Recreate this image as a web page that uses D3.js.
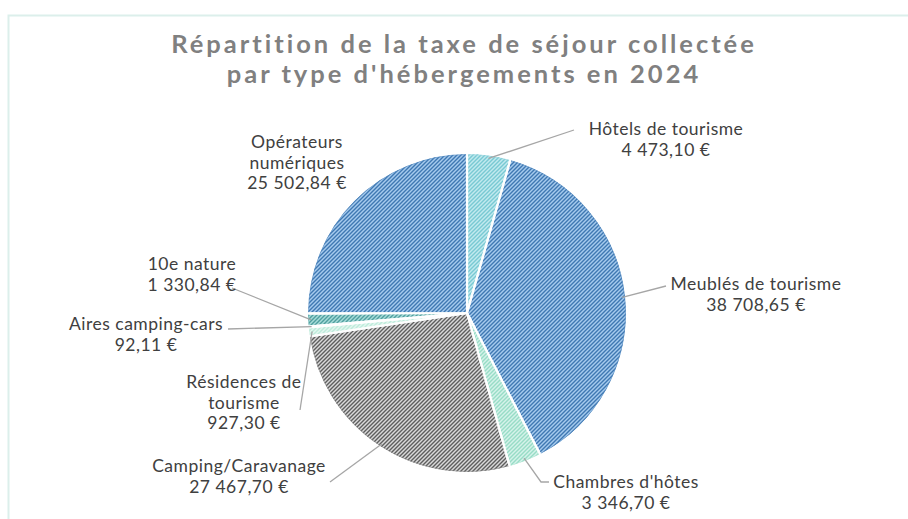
<!DOCTYPE html>
<html><head><meta charset="utf-8">
<script src="https://cdn.jsdelivr.net/npm/d3@7"></script>
<style>body{margin:0;background:#fff}svg{display:block}</style>
</head><body><svg id="c" width="908" height="519"></svg>
<script>
const categories = ["Hôtels de tourisme","Meublés de tourisme","Chambres d'hôtes","Camping/Caravanage","Résidences de tourisme","Aires camping-cars","10e nature","Opérateurs numériques"];
const values = [4473.10, 38708.65, 3346.70, 27467.70, 927.30, 92.11, 1330.84, 25502.84];
const valueLabels = ["4 473,10 €","38 708,65 €","3 346,70 €","27 467,70 €","927,30 €","92,11 €","1 330,84 €","25 502,84 €"];
const labelLines = [["Hôtels de tourisme"],["Meublés de tourisme"],["Chambres d'hôtes"],["Camping/Caravanage"],["Résidences de","tourisme"],["Aires camping-cars"],["10e nature"],["Opérateurs","numériques"]];
const titleLines = ["Répartition de la taxe de séjour collectée","par type d'hébergements en 2024"];

// styles
const bgCols = ["#c2eaef","#a6cbee","#d5f3ea","#dadada","#e4f7f0","#f0fbf7","#a8dcd9","#a6cbee"];
const fgCols = ["#78c9d3","#3f78b2","#97dcc6","#5e5e5e","#bdebdb","#d5f1e7","#4f9f9f","#3f78b2"];
const edgeCols = ["#9fd8df","#5d8fc2","#b5e6d6","#8a8a8a","#d0f0e4","#e0f5ee","#6fb5b5","#5d8fc2"];
// label layout: center x, first baseline y, leader path end points
const layout = [
  {x:666,y:135,leader:[[574,130]]},
  {x:756,y:290,leader:[[666,286]]},
  {x:626,y:488,leader:[[541,482],[549,482]]},
  {x:239,y:472,leader:[[330,482]]},
  {x:244,y:388,leader:[[300,410]]},
  {x:146,y:330,leader:[[228,329]]},
  {x:192,y:270,leader:[[232,288]]},
  {x:297,y:148,leader:null}
];

const svg = d3.select("#c");
const W=908,H=519;
svg.append("rect").attr("x",8.5).attr("y",15.5).attr("width",W).attr("height",H).attr("fill","#fff").attr("stroke","#dcefeb").attr("stroke-width",2);

const defs = svg.append("defs");
values.forEach((v,i)=>{
  const p = defs.append("pattern").attr("id","pt"+i).attr("patternUnits","userSpaceOnUse").attr("width",4).attr("height",4);
  p.append("rect").attr("width",4).attr("height",4).attr("fill",bgCols[i]);
  p.append("path").attr("d","M-1,1 L1,-1 M0,4 L4,0 M3,5 L5,3").attr("stroke",fgCols[i]).attr("stroke-width",1.4);
});

// title
const title = svg.append("text").attr("text-anchor","middle").attr("font-family","Lato, sans-serif").attr("font-weight",700)
  .attr("font-size",25.5).attr("fill","#808080").attr("letter-spacing",3);
titleLines.forEach((t,i)=>title.append("tspan").attr("x",464).attr("y",53+i*30).text(t));

const cx=467, cy=313, r=160;
const pie = d3.pie().sort(null).value(d=>d)(values);
const arc = d3.arc().innerRadius(0).outerRadius(r);
const arcIn = d3.arc().innerRadius(0).outerRadius(r-1.5);
const g = svg.append("g").attr("transform",`translate(${cx},${cy})`);
g.selectAll("path.s").data(pie).join("path").attr("class","s").attr("d",arc)
  .attr("fill",(d,i)=>`url(#pt${i})`).attr("stroke","#fff").attr("stroke-width",2.2).attr("stroke-linejoin","round");
g.selectAll("path.e").data(pie).join("path").attr("class","e").attr("d",arcIn)
  .attr("fill","none").attr("stroke",(d,i)=>edgeCols[i]).attr("stroke-width",0.8).attr("opacity",0.7);
g.selectAll("path.w").data(pie).join("path").attr("class","w").attr("d",arc)
  .attr("fill","none").attr("stroke","#fff").attr("stroke-width",1.6).attr("stroke-linejoin","round");

// leaders
const line = d3.line();
pie.forEach((d,i)=>{
  const L = layout[i];
  if(!L.leader) return;
  const a = (d.startAngle+d.endAngle)/2;
  const s = [cx + (r-4)*Math.sin(a), cy - (r-4)*Math.cos(a)];
  svg.append("path").attr("d",line([s,...L.leader])).attr("fill","none").attr("stroke","#a6a6a6").attr("stroke-width",1.3);
});

// labels
pie.forEach((d,i)=>{
  const L = layout[i];
  const lines = [...labelLines[i], valueLabels[i]];
  const t = svg.append("text").attr("text-anchor","middle").attr("font-family","Lato, sans-serif").attr("font-size",17.5)
    .attr("letter-spacing",0.5).attr("fill","#404040");
  lines.forEach((s,k)=>t.append("tspan").attr("x",L.x).attr("y",L.y+k*20.5).text(s));
});
</script></body></html>
